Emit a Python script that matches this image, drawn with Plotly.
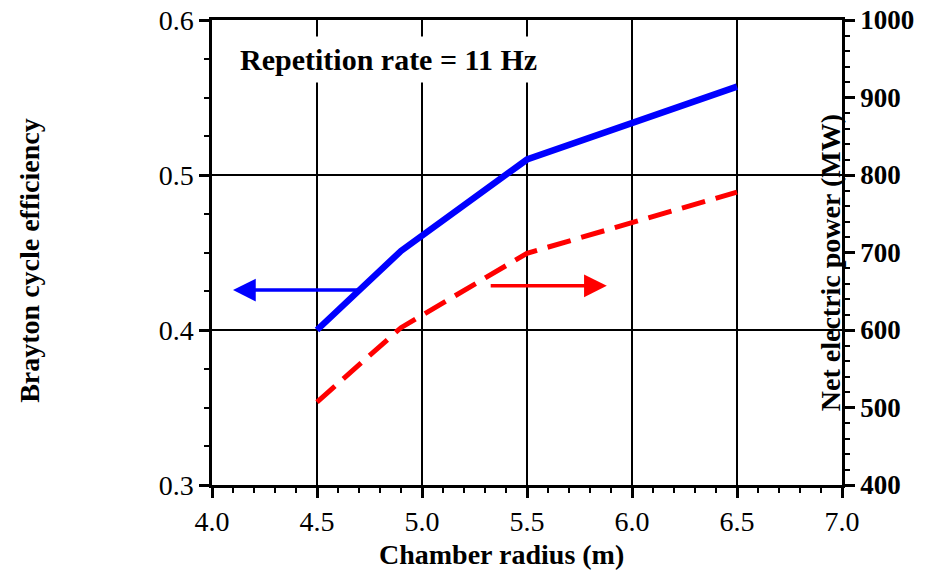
import plotly.graph_objects as go

# Data
radius_eff = [4.5, 4.9, 5.5, 6.5]
efficiency = [0.400, 0.451, 0.510, 0.557]
radius_pow = [4.5, 4.9, 5.5, 6.5]
power_mw = [507, 603, 699, 778]

x_ticks = [4.0, 4.5, 5.0, 5.5, 6.0, 6.5, 7.0]
y_ticks = [0.3, 0.4, 0.5, 0.6]
y2_ticks = [400, 500, 600, 700, 800, 900, 1000]

FONT = "Liberation Serif"

fig = go.Figure()
fig.add_trace(go.Scatter(x=radius_eff, y=efficiency, mode="lines",
                         line=dict(color="#0000FF", width=6.5), yaxis="y", showlegend=False))
fig.add_trace(go.Scatter(x=radius_pow, y=power_mw, mode="lines",
                         line=dict(color="#FF0000", width=5, dash="24px,11px"), yaxis="y2", showlegend=False))

fig.update_layout(
    width=926, height=571,
    margin=dict(l=212, r=84, t=20, b=86),
    plot_bgcolor="white", paper_bgcolor="white",
    font=dict(family=FONT, color="black", size=28),
    xaxis=dict(range=[4.0, 7.0], tickvals=x_ticks, ticktext=[f"{v:.1f}" for v in x_ticks],
               automargin=False,
               showline=True, linecolor="black", linewidth=2.5, mirror=True,
               ticks="outside", ticklen=10, tickwidth=2.5, tickcolor="black",
               minor=dict(dtick=0.1, ticks="outside", ticklen=5, tickwidth=2, tickcolor="black", showgrid=False),
               showgrid=True, gridcolor="black", gridwidth=1.5, zeroline=False,
               tickfont=dict(size=28, family=FONT)),
    yaxis=dict(range=[0.3, 0.6], tickvals=y_ticks, ticktext=[f"{v:.1f}" for v in y_ticks],
               automargin=False,
               showline=True, linecolor="black", linewidth=2.5,
               ticks="outside", ticklen=10, tickwidth=2.5, tickcolor="black",
               minor=dict(dtick=0.025, ticks="outside", ticklen=5, tickwidth=2, tickcolor="black", showgrid=False),
               showgrid=True, gridcolor="black", gridwidth=1.5, zeroline=False,
               tickfont=dict(size=28, family=FONT)),
    yaxis2=dict(range=[400, 1000], tickvals=y2_ticks, overlaying="y", side="right",
                automargin=False,
                showline=True, linecolor="black", linewidth=2.5,
                ticks="outside", ticklen=10, tickwidth=2.5, tickcolor="black",
                minor=dict(dtick=20, ticks="outside", ticklen=5, tickwidth=2, tickcolor="black", showgrid=False),
                showgrid=False, zeroline=False,
                tickfont=dict(size=27, family=FONT, weight="bold")),
)

# Text annotations
fig.add_annotation(text="<b>Repetition rate = 11 Hz</b>", xref="paper", yref="paper",
                   x=0.034, y=0.914, xanchor="left", yanchor="middle", showarrow=False,
                   font=dict(size=30, family=FONT), bgcolor="white", borderpad=6)
fig.add_annotation(text="<b>Chamber radius (m)</b>", xref="paper", yref="paper",
                   x=0.46, y=-0.15, xanchor="center", yanchor="middle", showarrow=False,
                   font=dict(size=28, family=FONT))
fig.add_annotation(text="<b>Brayton cycle efficiency</b>", xref="paper", yref="paper",
                   x=-0.289, y=0.484, xanchor="center", yanchor="middle", showarrow=False,
                   textangle=-90, font=dict(size=28, family=FONT))
fig.add_annotation(text="<b>Net electric power (MW)</b>", xref="paper", yref="paper",
                   x=0.981, y=0.477, xanchor="center", yanchor="middle", showarrow=False,
                   textangle=-90, font=dict(size=28, family=FONT))

# Arrows
fig.add_annotation(x=4.1, y=0.4258, xref="x", yref="y", ax=4.7, ay=0.4258, axref="x", ayref="y",
                   text="", showarrow=True, arrowhead=2, arrowsize=1.3, arrowwidth=3.5, arrowcolor="#0000FF")
fig.add_annotation(x=5.88, y=657, xref="x", yref="y2", ax=5.32, ay=657, axref="x", ayref="y2",
                   text="", showarrow=True, arrowhead=2, arrowsize=1.3, arrowwidth=3.5, arrowcolor="#FF0000")

fig.write_html("out.html")
